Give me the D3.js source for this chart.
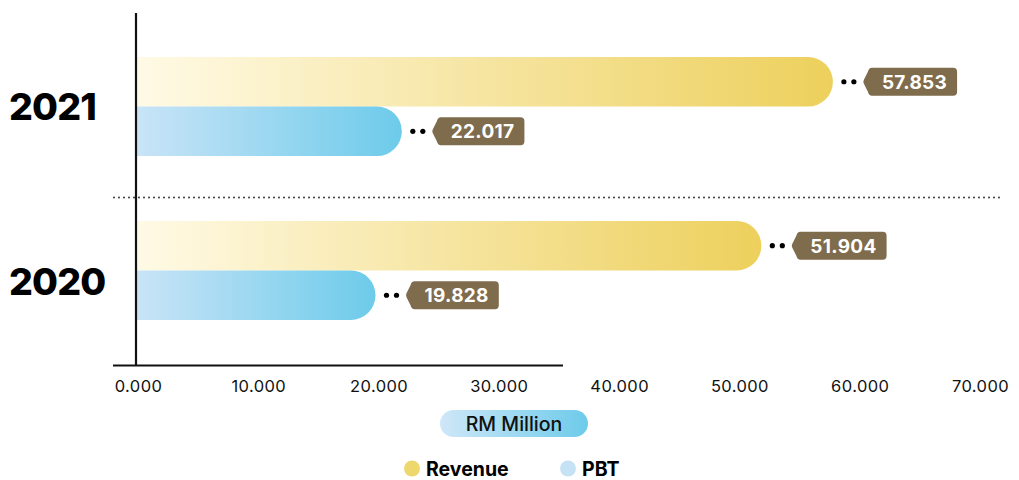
<!DOCTYPE html>
<html>
<head>
<meta charset="utf-8">
<script src="https://cdn.jsdelivr.net/npm/d3@7"></script>
<style>
  html, body { margin: 0; padding: 0; background: #fff; }
  svg { display: block; font-family: Inter, "Noto Sans", sans-serif; }
</style>
</head>
<body>
<svg id="chart" width="1019" height="480"></svg>
<script>
// Financial highlights: Revenue and PBT (RM Million)
const years = ["2021", "2020"];
const seriesNames = ["Revenue", "PBT"];
const revenue = [57.853, 51.904];
const pbt = [22.017, 19.828];
const tickValues = [0, 10, 20, 30, 40, 50, 60, 70];
const unitLabel = "RM Million";

const svg = d3.select("#chart");
const defs = svg.append("defs");

function gradient(id, from, to) {
  const g = defs.append("linearGradient").attr("id", id)
    .attr("x1", "0%").attr("x2", "100%").attr("y1", "0%").attr("y2", "0%");
  g.append("stop").attr("offset", "0%").attr("stop-color", from);
  g.append("stop").attr("offset", "100%").attr("stop-color", to);
}
gradient("grad-rev", "#FFFAE6", "#EDD05C");
gradient("grad-pbt", "#C9E4F7", "#6DCBEA");
gradient("grad-unit", "#CFE7F8", "#6DCBEA");

const x = d3.scaleLinear().domain([0, 70]).range([137, 979]);
const y = d3.scaleBand().domain(years).range([57, 320]).paddingInner(0.396);
const ySub = d3.scaleBand().domain(seriesNames).range([0, y.bandwidth()]);

const rows = [];
years.forEach((yr, i) => {
  rows.push({ year: yr, series: "Revenue", value: revenue[i], fill: "url(#grad-rev)" });
  rows.push({ year: yr, series: "PBT", value: pbt[i], fill: "url(#grad-pbt)" });
});

// bars: square at the axis, fully rounded at the value end
function barPath(d) {
  const x0 = x(0), x1 = x(d.value);
  const y0 = y(d.year) + ySub(d.series);
  const h = ySub.bandwidth();
  const r = h / 2;
  return `M${x0},${y0} L${x1 - r},${y0} A${r},${r} 0 0 1 ${x1 - r},${y0 + h} L${x0},${y0 + h} Z`;
}
svg.append("g").selectAll("path").data(rows).join("path")
  .attr("d", barPath)
  .attr("fill", d => d.fill);

// dotted divider between years
svg.append("line")
  .attr("x1", 114).attr("x2", 1000).attr("y1", 197.5).attr("y2", 197.5)
  .attr("stroke", "#222").attr("stroke-width", 1.8)
  .attr("stroke-linecap", "round").attr("stroke-dasharray", "0 5");

// axes lines
svg.append("line")
  .attr("x1", 136).attr("x2", 136).attr("y1", 13).attr("y2", 366)
  .attr("stroke", "#111").attr("stroke-width", 2.2);
svg.append("line")
  .attr("x1", 113).attr("x2", 563).attr("y1", 365.5).attr("y2", 365.5)
  .attr("stroke", "#111").attr("stroke-width", 2.2);

// x tick labels
const xAxis = d3.axisBottom(x).tickValues(tickValues).tickSize(0)
  .tickFormat(d3.format(".3f"));
const gx = svg.append("g").attr("transform", "translate(1,377)").call(xAxis);
gx.select(".domain").remove();
gx.selectAll("text")
  .attr("font-family", "Inter, sans-serif")
  .attr("font-size", 16.5)
  .attr("letter-spacing", 0.4)
  .attr("fill", "#111")
  .attr("dy", "0.71em");

// year labels
const yearShift = { "2021": 0, "2020": 11 };
svg.append("g").selectAll("text").data(years).join("text")
  .attr("x", 9)
  .attr("y", d => y(d) + y.bandwidth() / 2 + yearShift[d])
  .attr("dy", "0.36em")
  .attr("font-size", 37.5)
  .attr("font-weight", 800)
  .attr("letter-spacing", -0.8)
  .attr("fill", "#000")
  .text(d => d);

// value callouts: two dots and a tag
const tagColor = "#7F6C4C";
const callouts = svg.append("g").selectAll("g").data(rows).join("g")
  .attr("transform", d => `translate(${x(d.value)},${y(d.year) + ySub(d.series) + ySub.bandwidth() / 2})`);
callouts.append("circle").attr("cx", 11).attr("r", 2.6).attr("fill", "#000");
callouts.append("circle").attr("cx", 21).attr("r", 2.6).attr("fill", "#000");
callouts.each(function (d) {
  const g = d3.select(this);
  const tip = 30, left = 37;
  const shape = g.append("path").attr("fill", tagColor);
  const label = g.append("text")
    .attr("x", left + 12)
    .attr("dy", "0.36em")
    .attr("font-size", 19)
    .attr("font-weight", 700)
    .attr("letter-spacing", 0.3)
    .attr("fill", "#fff")
    .text(d3.format(".3f")(d.value));
  const w = label.node().getComputedTextLength() + 22;
  const h = 28, r = 4, t = h / 2;
  const x1 = left + w;
  shape.attr("d",
    `M${left + 2},${-t} L${x1 - r},${-t} Q${x1},${-t} ${x1},${-t + r} L${x1},${t - r} Q${x1},${t} ${x1 - r},${t}` +
    ` L${left + 2},${t} Q${left - 1},${t} ${left - 2},${t - 4} L${tip + 1},2 Q${tip},0 ${tip + 1},-2 L${left - 2},${-t + 4} Q${left - 1},${-t} ${left + 2},${-t} Z`);
});

// unit pill
const unit = svg.append("g").attr("transform", "translate(514,423.5)");
unit.append("rect").attr("x", -74).attr("y", -13.5).attr("width", 148).attr("height", 27)
  .attr("rx", 13.5).attr("fill", "url(#grad-unit)");
unit.append("text").attr("text-anchor", "middle").attr("dy", "0.36em")
  .attr("font-size", 19.5).attr("font-weight", 500).attr("fill", "#111").text(unitLabel);

// legend
const legendColors = ["#EDD86E", "#C6E2F5"];
const legendX = [412, 568];
const legend = svg.append("g").selectAll("g").data(seriesNames).join("g")
  .attr("transform", (d, i) => `translate(${legendX[i]},468.5)`);
legend.append("circle").attr("r", 8).attr("fill", (d, i) => legendColors[i]);
legend.append("text").attr("x", 14).attr("dy", "0.36em")
  .attr("font-size", 19.5).attr("font-weight", 700).attr("fill", "#000").text(d => d);
</script>
</body>
</html>
